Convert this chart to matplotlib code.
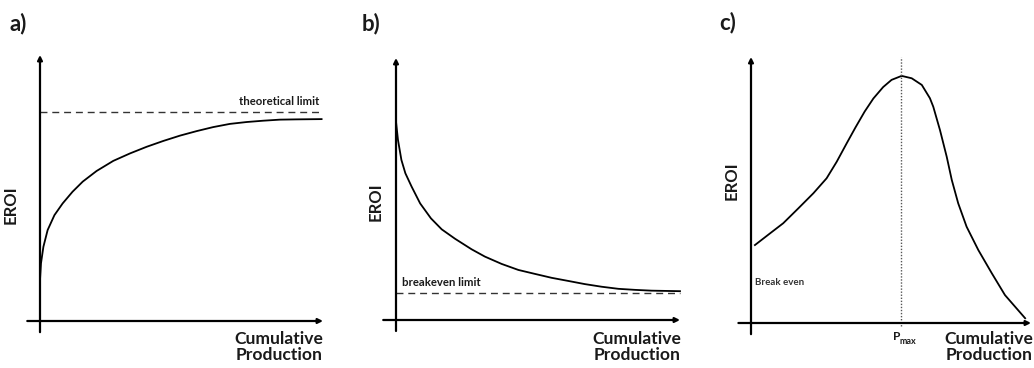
import matplotlib as mpl
import matplotlib.pyplot as plt
import numpy as np
mpl.use('Agg')

plt.rcParams['font.family'] = ['Lato', 'DejaVu Sans']

# panel a: EROI rising to a theoretical limit
a_x = [0, 0.35, 1.2, 2.7, 5.1, 8.0, 11.5, 15.1, 20.0, 25.9, 31.8, 37.7, 43.6,
       49.5, 55.4, 61.2, 67.1, 73.0, 78.9, 84.8, 90.7, 99.5]
a_y = [15.4, 21.7, 27.9, 34.2, 39.8, 44.2, 48.6, 52.4, 56.4, 60.2, 63.0, 65.5,
       67.7, 69.7, 71.4, 72.9, 74.1, 74.8, 75.3, 75.7, 75.8, 75.9]
a_limit = 78.7

# panel b: EROI falling to breakeven
b_x = [0, 0.7, 1.9, 3.3, 5.5, 8.5, 12.3, 16.1, 20.8, 26.6, 31.3, 37.2, 43.1,
       48.9, 54.8, 60.7, 66.5, 72.4, 78.3, 84.2, 90.0, 100]
b_y = [75.7, 68.7, 61.1, 56.0, 50.9, 44.5, 38.8, 34.6, 31.0, 27.0, 24.2, 21.4,
       19.1, 17.6, 16.1, 14.9, 13.7, 12.7, 11.9, 11.5, 11.2, 11.0]
b_limit = 10.4

# panel c: EROI rising then falling
c_x = [1.4, 6.8, 11.5, 16.9, 22.3, 27.0, 30.6, 34.2, 37.3, 40.6, 43.7, 47.2,
       50.2, 53.8, 57.4, 61.0, 63.9, 65.1, 67.5, 69.9, 71.7, 74.0, 77.0, 81.2,
       86.0, 90.7, 97.9]
c_y = [29.3, 33.7, 37.5, 43.1, 48.8, 54.4, 60.6, 67.6, 73.5, 79.5, 84.4, 88.7,
       91.4, 92.9, 92.0, 89.5, 84.5, 81.3, 72.5, 62.5, 53.8, 45.0, 36.2, 27.4,
       18.7, 10.5, 1.8]
c_pmax = 53.7

W, H = 1034, 368
fig = plt.figure(figsize=(W / 100, H / 100), dpi=100)
tc = '#1a1a1a'


def make_ax(left, right, bottom, top):
    ax = fig.add_axes([left / W, 1 - bottom / H, (right - left) / W, (bottom - top) / H])
    ax.set_xlim(0, 100)
    ax.set_ylim(0, 100)
    ax.axis('off')
    arrow = dict(arrowstyle='-|>', lw=1.6, color='black', shrinkA=0, shrinkB=0,
                 mutation_scale=7)
    ax.annotate('', xy=(100, 0), xytext=(-4.5, 0), arrowprops=arrow, annotation_clip=False)
    ax.annotate('', xy=(0, 100), xytext=(0, -4.2), arrowprops=arrow, annotation_clip=False)
    return ax


def labels(ax, letter, lx, ly, ex, ey, right_px, top_px):
    fig.text(lx / W, 1 - ly / H, letter, fontsize=16, fontweight='bold', color=tc,
             va='center', ha='left')
    fig.text(ex / W, 1 - ey / H, 'EROI', fontsize=12, fontweight='bold', color=tc,
             rotation=90, va='center', ha='center')
    fig.text(right_px / W, 1 - top_px / H, 'Cumulative\nProduction', fontsize=12.6,
             fontweight='bold', color=tc, ha='right', va='top', linespacing=1.0,
             multialignment='right')


# a)
ax = make_ax(40, 323, 321, 55)
ax.plot(a_x, a_y, color='black', lw=1.3, clip_on=False)
ax.plot([0, 100], [a_limit, a_limit], color='#333333', lw=1.0, ls=(0, (5, 3.5)), clip_on=False)
ax.text(98.5, a_limit + 1.8, 'theoretical limit', fontsize=8.2, fontweight='bold',
        color=tc, ha='right', va='bottom')
labels(ax, 'a)', 9, 24, 11, 205, 323, 331)

# b)
ax = make_ax(396, 680, 320, 58)
ax.plot(b_x, b_y, color='black', lw=1.3, clip_on=False)
ax.plot([0, 100], [b_limit, b_limit], color='#333333', lw=1.0, ls=(0, (5, 3.5)), clip_on=False)
ax.text(2.2, b_limit + 1.8, 'breakeven limit', fontsize=8.2, fontweight='bold',
        color=tc, ha='left', va='bottom')
labels(ax, 'b)', 362, 24, 376, 202, 681, 331)

# c)
ax = make_ax(751, 1031, 323, 57)
ax.plot(c_x, c_y, color='black', lw=1.3, clip_on=False)
ax.plot([c_pmax, c_pmax], [-1, 100], color='#555555', lw=1.0, ls=(0, (1, 1.2)), clip_on=False)
ax.text(1.5, 15.2, 'Break even', fontsize=7, fontweight='bold', color='#333333',
        ha='left', va='center')
ax.annotate('P', xy=(c_pmax, 0), xytext=(-1, -10), textcoords='offset points',
            fontsize=8.5, fontweight='bold', color=tc, ha='right', va='center',
            annotation_clip=False)
ax.annotate('max', xy=(c_pmax, 0), xytext=(-1.5, -13), textcoords='offset points',
            fontsize=6.5, fontweight='bold', color=tc, ha='left', va='center',
            annotation_clip=False)
labels(ax, 'c)', 719, 23, 732, 181, 1033, 331)

plt.savefig('out.png', dpi=100)
